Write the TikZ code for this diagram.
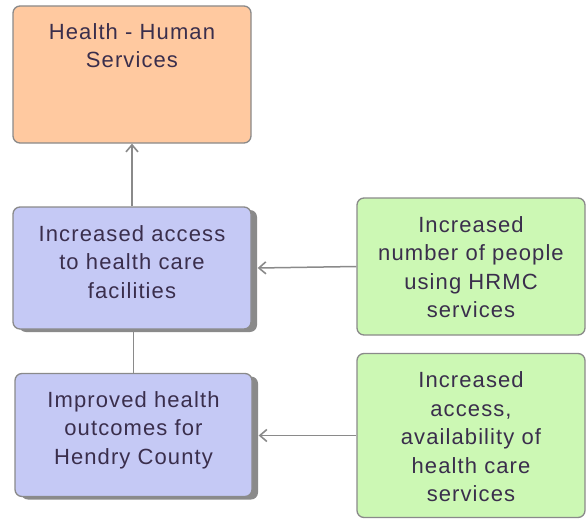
\documentclass[tikz,border=0pt]{standalone}
\usepackage{fontspec}
\setmainfont{Liberation Sans}
\newfontfamily\lblfont[LetterSpace=5]{Liberation Sans}
\usetikzlibrary{arrows.meta,shadows}
\definecolor{peach}{HTML}{FFC9A0}
\definecolor{lav}{HTML}{C5C9F5}
\definecolor{mint}{HTML}{CCF8B4}
\definecolor{txt}{HTML}{3A2E4C}
\definecolor{edge}{HTML}{8A8A8A}
\tikzset{
  box/.style={draw=edge, line width=1.3pt, rounded corners=7pt, inner sep=0pt},
  lbl/.style={text=txt, align=center, inner sep=0pt,
    font=\lblfont\fontsize{22}{28.5}\selectfont},
  shad/.style={drop shadow={shadow xshift=6pt, shadow yshift=-3pt, fill=edge, opacity=1}},
  conn/.style={draw=edge, line width=1.5pt},
  tip/.style={-{Straight Barb[length=7pt,width=12pt,line width=1.6pt]}}
}
\begin{document}
\begin{tikzpicture}[x=1pt,y=-1pt]
\useasboundingbox (0,0) rectangle (586,519);
\node[box, fill=peach, minimum width=238pt, minimum height=137pt] (hhs) at (132,74.5) {};
\node[lbl, anchor=north] (hhst) at (132,23) {Health - Human\\Services};
\node[box, shad, fill=lav, minimum width=238pt, minimum height=122pt] (acc) at (132,268) {};
\node[lbl] (acct) at (132,262) {Increased access\\to health care\\facilities};
\node[box, shad, fill=lav, minimum width=237pt, minimum height=123pt] (imp) at (133.5,435) {};
\node[lbl] (impt) at (133.5,430) {Improved health\\outcomes for\\Hendry County};
\node[box, fill=mint, minimum width=228pt, minimum height=137pt] (num) at (471,266.5) {};
\node[lbl] (numt) at (471,267) {Increased\\number of people\\using HRMC\\services};
\node[box, fill=mint, minimum width=228pt, minimum height=164pt] (avl) at (471,435.5) {};
\node[lbl] (avlt) at (471,437) {Increased\\access,\\availability of\\health care\\services};
\draw[conn, tip] (acc.north -| hhs.south) -- (hhs.south);
\draw[conn] (imp.north) -- (imp.north |- acc.south);
\draw[conn, tip] (num.west) -- ([xshift=6pt]acc.east);
\draw[conn, tip] (avl.west) -- ([xshift=6pt]imp.east |- avl.west);
\end{tikzpicture}
\end{document}
